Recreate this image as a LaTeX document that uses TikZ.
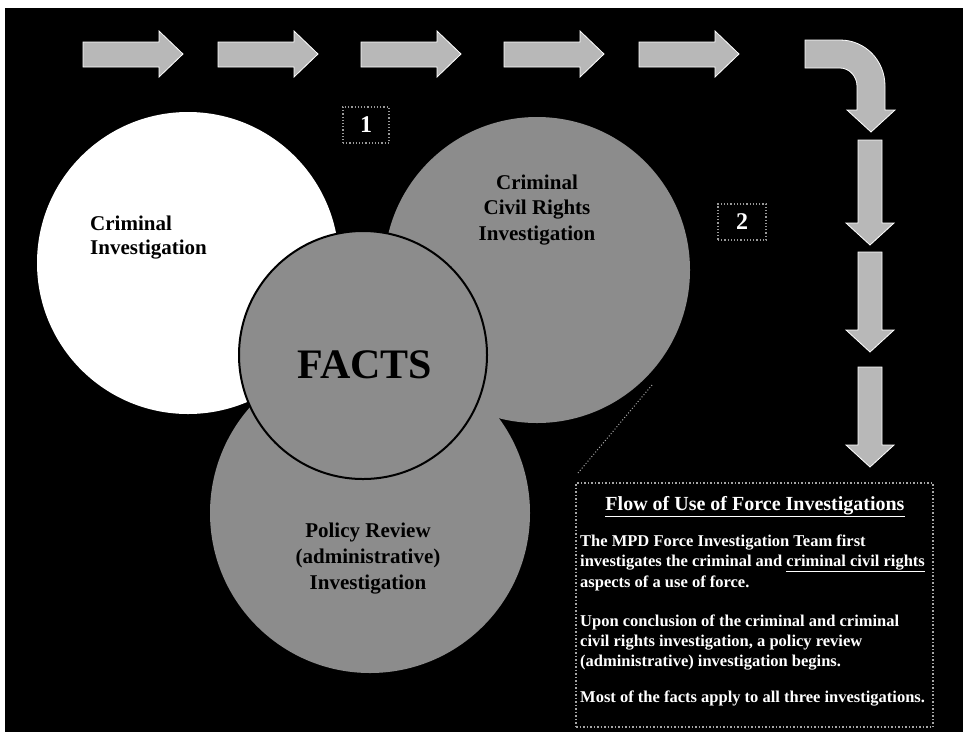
\documentclass[tikz,border=0pt]{standalone}
\usepackage{fontspec}
\setmainfont{Liberation Serif}
\begin{document}
\begin{tikzpicture}[x=1pt,y=-1pt]
\definecolor{texgray}{gray}{0.55}
\definecolor{arrowgray}{gray}{0.72}
\tikzset{
  blockarrow/.style={fill=arrowgray, draw=white, line width=0.8pt},
  bigcircle/.style={circle, inner sep=0pt, fill=texgray},
  circtext/.style={text=black, inner sep=0pt, align=center},
  numbox/.style={draw=gray!80, dotted, line width=1.2pt, inner sep=0pt, text=white,
    font=\bfseries\fontsize{24}{24}\selectfont},
  infobox/.style={draw=gray!70, dotted, line width=1.5pt, fill=black, inner sep=0pt},
  infoline/.style={anchor=base west, inner sep=0pt, text=white, font=\bfseries\fontsize{16.5}{20}\selectfont},
}
% page and background
\useasboundingbox (0,0) rectangle (963,732);
\fill[white] (0,0) rectangle (963,732);
\fill[black] (5,8) rectangle (963,732);

% top row of arrows
\foreach \x in {83,218,361,504,639} {
  \draw[blockarrow] (\x,42) -- (\x+76,42) -- (\x+76,31) -- (\x+100,54) -- (\x+76,77) -- (\x+76,67) -- (\x,67) -- cycle;
}
% bent arrow
\draw[blockarrow] (805,40) -- (840,40) .. controls (865.4,40) and (885,60.6) .. (885,86)
  -- (885,110) -- (895,110) -- (871,132) -- (847,110) -- (857,110) -- (857,86)
  .. controls (857,76.6) and (849.4,68) .. (840,68) -- (805,68) -- cycle;
% down arrows
\foreach \t/\b in {140/223, 252/330, 367/445} {
  \draw[blockarrow] (858,\t) -- (882,\t) -- (882,\b) -- (894,\b) -- (870,\b+22) -- (846,\b) -- (858,\b) -- cycle;
}

% circles
\node[bigcircle, fill=white, minimum size=302pt] (crim) at (188,263) {};
\node[bigcircle, minimum size=306pt] (civil) at (537,270) {};
\node[bigcircle, minimum size=320pt] (policy) at (370,513) {};
\node[bigcircle, minimum size=248pt, draw=black, line width=2pt] (facts) at (363,355) {};

% circle texts (anchor base = baseline of last line)
\node[circtext, anchor=base west, align=left, font=\bfseries\fontsize{21}{24}\selectfont] (crimtxt) at (90,254) {Criminal\\Investigation};
\node[circtext, anchor=base, font=\bfseries\fontsize{21}{25.5}\selectfont] (civiltxt) at (537,240) {Criminal\\Civil Rights\\Investigation};
\node[circtext, anchor=base, font=\bfseries\fontsize{21}{26}\selectfont] (policytxt) at (368,589) {Policy Review\\(administrative)\\Investigation};
\node[inner sep=0pt, anchor=base, font=\bfseries\fontsize{42}{42}\selectfont] (factstxt) at (365,378) {FACTS};

% numbered boxes
\node[numbox, minimum width=46pt, minimum height=36pt] (n1) at (366,125) {1};
\node[numbox, minimum width=48pt, minimum height=36pt] (n2) at (742,222) {2};

% dotted diagonal
\draw[gray!70, dotted, line width=1pt] (652,385) -- (578,473);

% info box
\node[infobox, minimum width=357pt, minimum height=244pt] (info) at (754.5,605) {};
\node[anchor=base, inner sep=0pt, text=white, font=\bfseries\fontsize{20}{20}\selectfont] (title) at (755,510) {\underline{Flow of Use of Force Investigations}};
\node[infoline] (l1) at (580,546) {The MPD Force Investigation Team first};
\node[infoline] (l2) at (580,566) {investigates the criminal and \underline{criminal civil rights}};
\node[infoline] (l3) at (580,587) {aspects of a use of force.};
\node[infoline] (l4) at (580,626) {Upon conclusion of the criminal and criminal};
\node[infoline] (l5) at (580,646) {civil rights investigation, a policy review};
\node[infoline] (l6) at (580,666) {(administrative) investigation begins.};
\node[infoline] (l7) at (580,702) {Most of the facts apply to all three investigations.};
\end{tikzpicture}
\end{document}
